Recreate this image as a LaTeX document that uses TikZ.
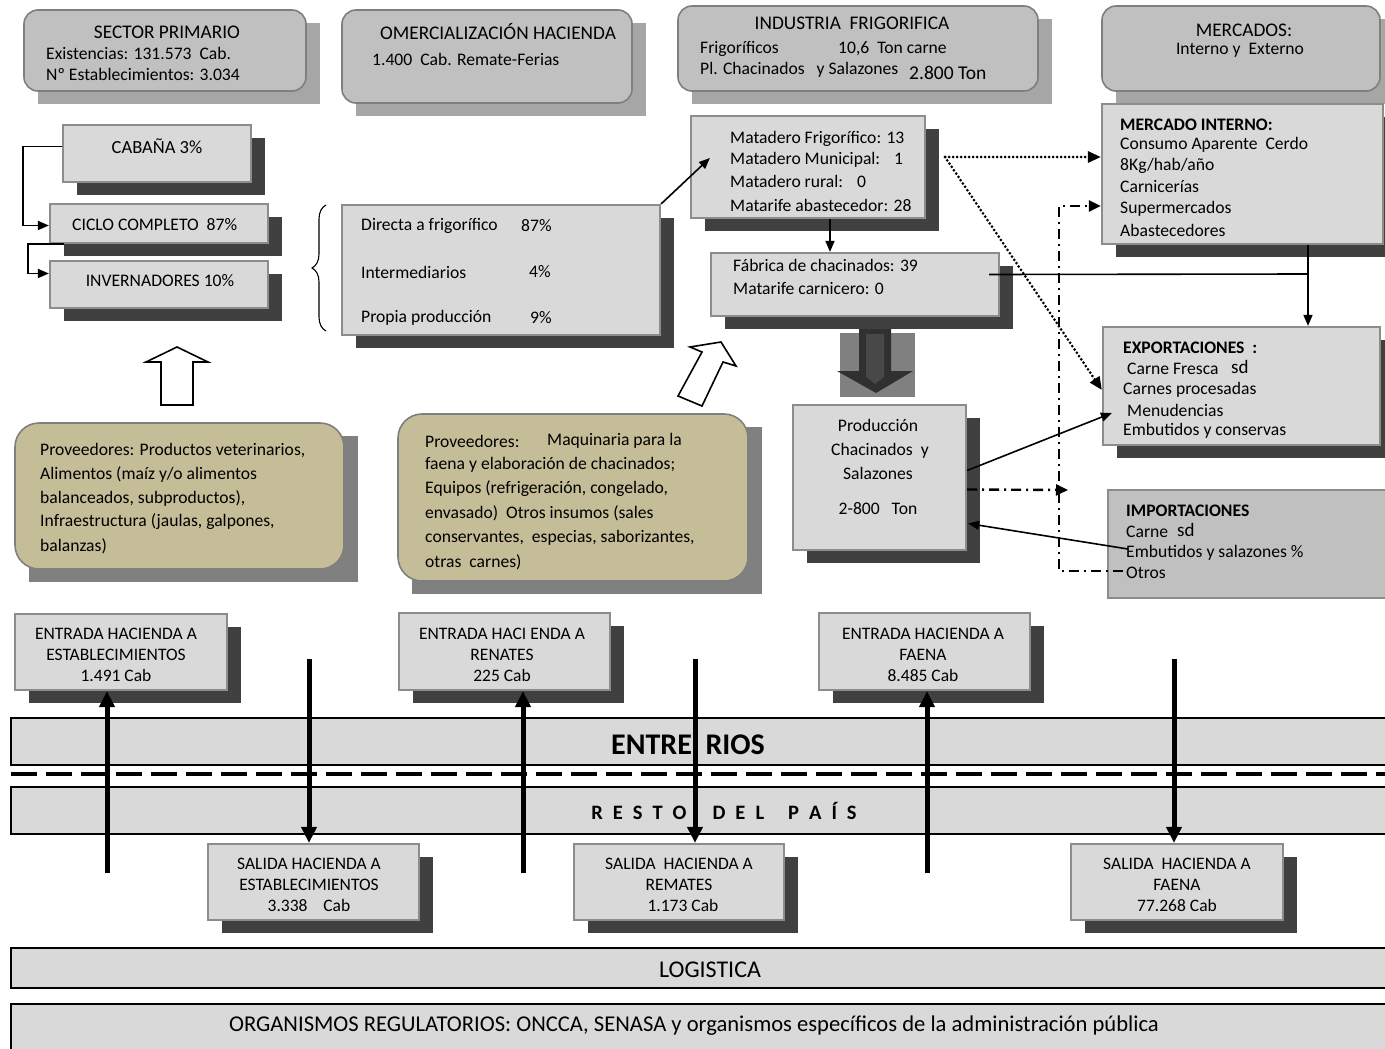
\documentclass[tikz,border=0pt]{standalone}
\usepackage{fontspec}
\setmainfont{Carlito}
\usetikzlibrary{arrows.meta,fit,decorations.pathreplacing}
\definecolor{tfill}{HTML}{C0C0C0}
\definecolor{tborder}{HTML}{7F7F7F}
\definecolor{tshadow}{HTML}{A6A6A6}
\definecolor{lfill}{HTML}{D9D9D9}
\definecolor{lborder}{HTML}{8C8C8C}
\definecolor{dshadow}{HTML}{404040}
\definecolor{pfill}{HTML}{C4BD97}
\definecolor{pshadow}{HTML}{808080}
\definecolor{arrdark}{HTML}{303030}
\definecolor{arrmid}{HTML}{484848}
\newcommand\fsz[2]{\fontsize{#1}{#2}\selectfont}
\newcommand\bx[7]{\fill[#3] (#4+14,#5+13) rectangle (#6+14,#7+13);
  \node[#2, fit={(#4,#5) (#6,#7)}] (#1) {};}
\newcommand\ls{\hspace{10pt}}
\tikzset{
  topbox/.style={draw=tborder, fill=tfill, rounded corners=14pt, line width=1.6pt, inner sep=0pt},
  lbox/.style={draw=lborder, fill=lfill, line width=2.2pt, inner sep=0pt},
  ibox/.style={draw=lborder, fill=tfill, line width=2.2pt, inner sep=0pt},
  pbox/.style={draw=tborder, fill=pfill, rounded corners=24pt, line width=1.6pt, inner sep=0pt},
  band/.style={draw=black, fill=lfill, line width=1.3pt, inner sep=0pt},
  tx/.style={inner sep=0pt, anchor=west, font=\fsz{17.6}{21}},
  tc/.style={inner sep=0pt, anchor=center, align=center, font=\fsz{17.6}{21}},
  bld/.style={tx, font=\bfseries\fsz{17.6}{21}},
  ttl/.style={tc, font=\fsz{19.3}{22}},
  small/.style={tc, font=\fsz{17.5}{21.3}},
  conn/.style={line width=1.6pt, -{Triangle[length=11pt,width=9pt]}},
  plain/.style={line width=1.6pt},
  dotconn/.style={line width=3pt, line cap=round, dash pattern=on 0pt off 4pt, -{Triangle[length=13pt,width=11pt,line cap=butt]}},
  ddconn/.style={line width=2.4pt, dash pattern=on 10pt off 5pt on 2pt off 5pt, -{Triangle[length=12pt,width=11pt]}},
  bigarrow/.style={line width=5pt, -{Triangle[length=16pt,width=15pt]}},
  hollow/.style={draw=black, fill=white, line width=1.6pt, line join=miter},
}
\begin{document}
\begin{tikzpicture}[x=1pt,y=-1pt]
\useasboundingbox (0,0) rectangle (1385,1049);
% ---------- top row
\bx{sp}{topbox}{tshadow}{24}{10}{306}{91}
\bx{co}{topbox}{tshadow}{342}{10}{632}{103}
\bx{in}{topbox}{tshadow}{678}{6}{1038}{91}
\bx{me}{topbox}{tshadow}{1102}{6}{1380}{91}
\node[ttl] (spT) at (167,32) {SECTOR PRIMARIO};
\node[tx] (spA) at (46,53) {Existencias: 131.573\ \ Cab.};
\node[tx] (spB) at (46,74) {Nº Establecimientos: 3.034};
\node[ttl] (coT) at (498,32) {OMERCIALIZACIÓN HACIENDA};
\node[tx] (coA) at (372,59) {1.400\ \ Cab. Remate-Ferias};
\node[ttl] (inT) at (852,23) {INDUSTRIA\ \ FRIGORIFICA};
\node[tx] (inA) at (700,49) {Frigoríficos};
\node[tx] (inB) at (838,49) {10,6\ \ Ton carne};
\node[tx] (inC) at (700,70) {Pl. Chacinados\ \ \ y Salazones};
\node[tx, font=\fsz{19.5}{22}] (inD) at (909,73) {2.800 Ton};
\node[ttl] (meT) at (1244,30) {MERCADOS:};
\node[tc] (meA) at (1240,50) {Interno y\ \ Externo};
% ---------- left column
\bx{cab}{lbox}{dshadow}{63}{125}{251}{182}
\bx{cic}{lbox}{dshadow}{50}{204}{268}{243}
\bx{inv}{lbox}{dshadow}{50}{261}{268}{308}
\node[tc, font=\fsz{18.5}{21}] (cabT) at (157,146) {CABAÑA 3\%};
\node[tx] (cicT) at (72,225) {CICLO COMPLETO\ \ 87\%};
\node[tc] (invT) at (160,281) {INVERNADORES 10\%};
% ---------- channels
\bx{can}{lbox}{dshadow}{342}{205}{660}{335}
\node[tx] (c1) at (361,226) {Directa a frigorífico};
\node[tx] (c1b) at (521,226) {87\%};
\node[tx] (c2) at (361,272) {Intermediarios};
\node[tx] (c2b) at (529,272) {4\%};
\node[tx] (c3) at (361,318) {Propia producción};
\node[tx] (c3b) at (530,318) {9\%};
\draw[line width=1.1pt, decorate, decoration={brace, amplitude=14pt}] (326,331) -- (326,205);
% ---------- industry
\bx{mat}{lbox}{dshadow}{691}{116}{925}{218}
\node[tx] (m1) at (730,139) {Matadero Frigorífico: 13};
\node[tx] (m2) at (730,160) {Matadero Municipal:\hspace{14pt}1};
\node[tx] (m3) at (730,181) {Matadero rural:\hspace{14pt}0};
\node[tx] (m4) at (730,205) {Matarife abastecedor: 28};
\bx{fab}{lbox}{dshadow}{711}{253}{999}{316}
\node[tx] (f1) at (733,265) {Fábrica de chacinados: 39};
\node[tx] (f2) at (733,289) {Matarife carnicero: 0};
% big grey arrow
\fill[pshadow] (840,333) rectangle (915,397);
\fill[arrdark] (859,329) -- (891,329) -- (891,371) -- (913,371) -- (876,393) -- (837,371) -- (859,371) -- cycle;
\fill[arrmid] (866,334) -- (884,334) -- (884,377) -- (875,384) -- (866,377) -- cycle;
\bx{prod}{lbox}{dshadow}{793}{405}{966}{550}
\node[tc] (p1) at (878,425) {Producción};
\node[tc] (p2) at (880,451) {Chacinados\ \ y};
\node[tc] (p3) at (878,473) {Salazones};
\node[tc] (p4) at (878,509) {2-800\ \ \ Ton};
% ---------- markets
\bx{mi}{lbox}{dshadow}{1102}{104}{1383}{244}
\node[bld] (mi0) at (1120,125) {MERCADO INTERNO:};
\node[tx] (mi1) at (1120,145) {Consumo Aparente\ \ Cerdo};
\node[tx] (mi2) at (1120,166) {8Kg/hab/año};
\node[tx] (mi3) at (1120,187) {Carnicerías};
\node[tx] (mi4) at (1120,209) {Supermercados};
\node[tx] (mi5) at (1120,230) {Abastecedores};
\bx{exp}{lbox}{dshadow}{1103}{327}{1380}{445}
\node[bld] (ex0) at (1123,348) {EXPORTACIONES\ \ :};
\node[tx] (ex1) at (1127,369) {Carne Fresca};
\node[tx, font=\fsz{19}{21}] (ex1b) at (1231,367) {sd};
\node[tx] (ex2) at (1123,390) {Carnes procesadas};
\node[tx] (ex3) at (1127,410) {Menudencias};
\node[tx] (ex4) at (1123,431) {Embutidos y conservas};
\node[ibox, fit={(1108,490) (1386,598)}] (imp) {};
\node[bld] (im0) at (1126,511) {IMPORTACIONES};
\node[tx] (im1) at (1126,532) {Carne};
\node[tx, font=\fsz{19}{21}] (im1b) at (1177,530) {sd};
\node[tx] (im2) at (1126,553) {Embutidos y salazones \%};
\node[tx] (im3) at (1126,573) {Otros};
% ---------- suppliers
\bx{pa}{pbox}{pshadow}{15}{423}{344}{569}
\bx{pb}{pbox}{pshadow}{398}{414}{748}{581}
\node[tx] (pa1) at (40,451) {Proveedores: Productos veterinarios,};
\node[tx] (pa2) at (40,474) {Alimentos (maíz y/o alimentos};
\node[tx] (pa3) at (40,498) {balanceados, subproductos),};
\node[tx] (pa4) at (40,522) {Infraestructura (jaulas, galpones,};
\node[tx] (pa5) at (40,546) {balanzas)};
\node[tx] (pb1) at (425,441) {Proveedores:};
\node[tx] (pb1b) at (547,441) {Maquinaria para la};
\node[tx] (pb2) at (425,465) {faena y elaboración de chacinados;};
\node[tx] (pb3) at (425,489) {Equipos (refrigeración, congelado,};
\node[tx] (pb4) at (425,513) {envasado)\ \ Otros insumos (sales};
\node[tx] (pb5) at (425,538) {conservantes,\ \ especias, saborizantes,};
\node[tx] (pb6) at (425,562) {otras\ \ carnes)};
% hollow arrows
\draw[hollow] (177,347) -- (208,362) -- (193,362) -- (193,405) -- (161,405) -- (161,362) -- (146,362) -- cycle;
\draw[hollow] (678,396) -- (702,352) -- (690,347) -- (721,342) -- (736,366) -- (723,362) -- (702,406) -- cycle;
% ---------- bands
\node[band, fit={(11,718) (1392,765)}] (er) {};
\node[band, fit={(11,787) (1392,834)}] (rp) {};
\node[band, fit={(11,948) (1392,988)}] (lg) {};
\node[band, fit={(11,1004) (1392,1060)}] (og) {};
\draw[line width=4pt, dash pattern=on 26pt off 9pt] (11,774) -- (1392,774);
\node[tc, font=\bfseries\fsz{30}{34}] (erT) at (688,745) {ENTRE\ \ RIOS};
\node[tc, font=\bfseries\fsz{20.5}{24}] (rpT) at (724,811) {R\ls E\ls S\ls T\ls O\hspace{26pt}D\ls E\ls L\hspace{24pt}P\ls A\ls Í\ls S};
\node[tc, font=\fsz{24}{26}] (lgT) at (710,970) {LOGISTICA};
\node[tc, font=\fsz{22.6}{26}] (ogT) at (694,1026) {ORGANISMOS REGULATORIOS: ONCCA, SENASA y organismos específicos de la administración pública};
% ---------- entrada / salida
\bx{e1}{lbox}{dshadow}{15}{614}{227}{690}
\bx{e2}{lbox}{dshadow}{399}{613}{610}{690}
\bx{e3}{lbox}{dshadow}{819}{613}{1030}{690}
\node[small] (e1T) at (116,655) {ENTRADA HACIENDA A\\ESTABLECIMIENTOS\\1.491 Cab};
\node[small] (e2T) at (502,655) {ENTRADA HACI ENDA A\\RENATES\\225 Cab};
\node[small] (e3T) at (923,655) {ENTRADA HACIENDA A\\FAENA\\8.485 Cab};
\bx{s1}{lbox}{dshadow}{208}{844}{419}{920}
\bx{s2}{lbox}{dshadow}{574}{844}{784}{920}
\bx{s3}{lbox}{dshadow}{1071}{844}{1283}{920}
\node[small] (s1T) at (309,885) {SALIDA HACIENDA A\\ESTABLECIMIENTOS\\3.338\ \ \ \ Cab};
\node[small] (s2T) at (679,885) {SALIDA\ \ HACIENDA A\\REMATES\\\ \ 1.173 Cab};
\node[small] (s3T) at (1177,885) {SALIDA\ \ HACIENDA A\\FAENA\\77.268 Cab};
% ---------- connectors
\draw[conn] ([shift={(0,-7)}]cab.west) -- ++(-39,0) |- ([shift={(0,2)}]cic.west);
\draw[conn] ([xshift=15pt]cic.south west) -- ++(-36,0) |- ([shift={(0,-11)}]inv.west);
\draw[conn] (can.north east) -- ([shift={(20,-9)}]mat.west);
\draw[conn] ([xshift=22pt]mat.south) -- ([xshift=22pt]mat.south |- fab.north);
\coordinate (dsrc) at (945,157);
\draw[dotconn] (dsrc) -- (mi.west |- dsrc);
\draw[dotconn] (dsrc) -- ([shift={(0,4)}]exp.west);
\coordinate (jn) at (1308,274);
\draw[plain] (mi.south -| jn) -- (jn);
\draw[conn] ([shift={(-11,-10)}]fab.east) -- (jn) -- (jn |- exp.north);
\draw[conn] ([shift={(0,-7)}]prod.east) -- ([shift={(10,27)}]exp.west);
\draw[conn] ([shift={(21,5)}]imp.west) -- ([shift={(1,46)}]prod.east);
\coordinate (ddend) at (1068,490);
\draw[ddconn] ([shift={(0,12)}]prod.east) -- (ddend);
\coordinate (ddbot) at (1059,571);
\draw[ddconn] ([shift={(16,27)}]imp.west) -- (ddbot) -- (ddbot |- 0,206) -- (mi.west |- 0,206);
% vertical flows
\coordinate (u1) at (107,873);
\coordinate (u2) at (523,873);
\coordinate (u3) at (927,873);
\draw[bigarrow] (u1) -- (u1 |- e1.south);
\draw[bigarrow] (u2) -- (u2 |- e2.south);
\draw[bigarrow] (u3) -- (u3 |- e3.south);
\coordinate (d1) at (309,659);
\coordinate (d2) at (695,659);
\coordinate (d3) at (1174,659);
\draw[bigarrow] (d1) -- (d1 |- s1.north);
\draw[bigarrow] (d2) -- (d2 |- s2.north);
\draw[bigarrow] (d3) -- (d3 |- s3.north);
\end{tikzpicture}
\end{document}
